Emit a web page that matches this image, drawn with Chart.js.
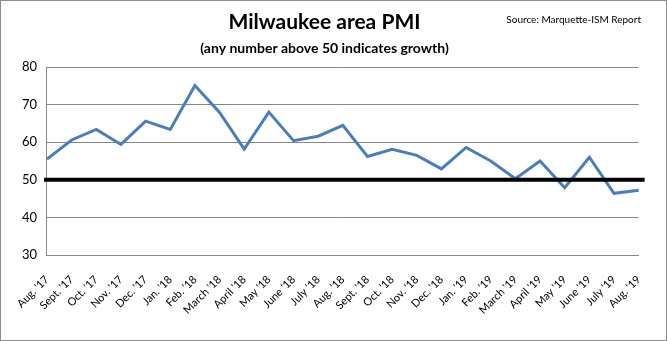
<!DOCTYPE html>
<html>
<head>
<meta charset="utf-8">
<script src="https://cdn.jsdelivr.net/npm/chart.js@4"></script>
<style>
    body { margin: 0; background: #fff; }
    #frame { width: 667px; height: 341px; box-sizing: border-box; border: 1px solid #8c8c8c; }
    #frame canvas { display: block; }
</style>
</head>
<body>
<div id="frame"><canvas id="pmiChart" width="665" height="339"></canvas></div>
<script>
let months = ["Aug. '17", "Sept. '17", "Oct. '17", "Nov. '17", "Dec. '17", "Jan. '18", "Feb. '18", "March '18",
    "April '18", "May '18", "June '18", "July '18", "Aug. '18", "Sept. '18", "Oct. '18", "Nov. '18", "Dec. '18",
    "Jan. '19", "Feb. '19", "March '19", "April '19", "May '19", "June '19", "July '19", "Aug. '19"];
let pmiValues = [55.5, 60.6, 63.4, 59.4, 65.6, 63.4, 75.1, 67.9, 58.2, 68.0, 60.4, 61.6, 64.5,
    56.2, 58.1, 56.5, 52.9, 58.6, 55.0, 50.3, 55.0, 47.9, 56.0, 46.4, 47.2];
let growthLine = 50;
let yMin = 30;
let yMax = 80;
let yStep = 10;

let fontFamily = "Lato, 'Open Sans', sans-serif";


// -------- 50er LINIE + QUELLE -------- //

let growthLinePlugin = {
    id: 'growthLine',
    afterDatasetsDraw(chart) {
        let ctx = chart.ctx;
        let area = chart.chartArea;
        let y = chart.scales.y.getPixelForValue(growthLine);
        ctx.save();
        ctx.strokeStyle = '#000';
        ctx.lineWidth = 4;
        ctx.beginPath();
        ctx.moveTo(area.left - 3, y);
        ctx.lineTo(area.right + 6, y);
        ctx.stroke();
        ctx.restore();
    }
};

let sourcePlugin = {
    id: 'sourceText',
    afterDraw(chart) {
        let ctx = chart.ctx;
        ctx.save();
        ctx.font = '10px ' + fontFamily;
        ctx.fillStyle = '#000';
        ctx.textAlign = 'right';
        ctx.textBaseline = 'middle';
        ctx.fillText('Source: Marquette-ISM Report', 640, 19);
        ctx.restore();
    }
};


// -------- CHART -------- //

function showChart() {
    const ctx = document.getElementById('pmiChart');

    new Chart(ctx, {
        type: 'line',
        data: {
            labels: months,
            datasets: [{
                data: pmiValues,
                borderColor: '#4a7ebb',
                borderWidth: 3,
                pointRadius: 0,
                tension: 0,
                fill: false
            }]
        },
        options: {
            responsive: false,
            animation: false,
            layout: { padding: { left: 0, right: 18, top: 0, bottom: 0 } },
            scales: {
                x: {
                    offset: false,
                    grid: { display: false, drawTicks: false },
                    border: { display: true, color: '#868686', width: 1 },
                    ticks: {
                        autoSkip: false,
                        minRotation: 45,
                        maxRotation: 45,
                        padding: 18,
                        color: '#000',
                        font: { family: fontFamily, size: 11 }
                    },
                    afterFit(scale) { scale.height = 85; }
                },
                y: {
                    min: yMin,
                    max: yMax,
                    grid: { color: '#868686', lineWidth: 1, drawTicks: false },
                    border: { display: true, color: '#868686', width: 1 },
                    ticks: {
                        stepSize: yStep,
                        padding: 10,
                        color: '#000',
                        font: { family: fontFamily, size: 13 }
                    },
                    afterFit(scale) { scale.width = 37; }
                }
            },
            plugins: {
                legend: { display: false },
                tooltip: { enabled: false },
                title: {
                    display: true,
                    text: 'Milwaukee area PMI',
                    color: '#000',
                    font: { family: fontFamily, size: 21, weight: 'bold' },
                    padding: { top: 9, bottom: 4 }
                },
                subtitle: {
                    display: true,
                    text: '(any number above 50 indicates growth)',
                    color: '#000',
                    font: { family: fontFamily, size: 14, weight: 'bold' },
                    padding: { top: 1, bottom: 10 }
                }
            }
        },
        plugins: [growthLinePlugin, sourcePlugin]
    });
}

showChart();
</script>
</body>
</html>
